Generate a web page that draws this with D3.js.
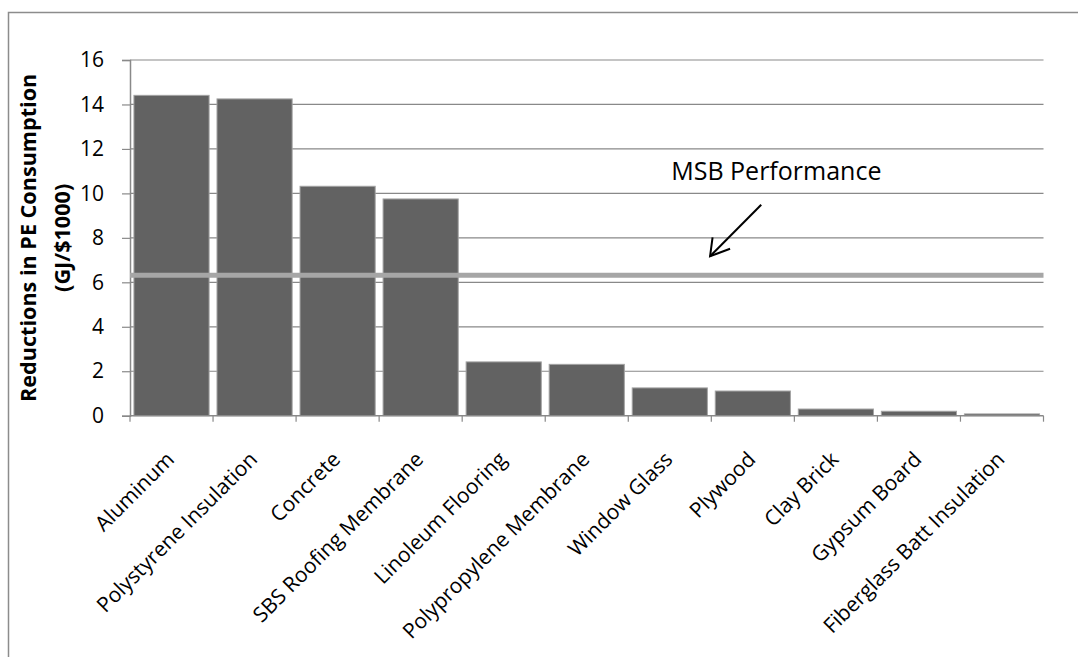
<!DOCTYPE html>
<html>
<head>
<meta charset="utf-8">
<script src="https://cdn.jsdelivr.net/npm/d3@7/dist/d3.min.js"></script>
<style>
  html, body { margin: 0; padding: 0; background: #fff; }
  svg text { font-family: "Open Sans", "DejaVu Sans", sans-serif; fill: #000; }
</style>
</head>
<body>
<svg id="chart" width="1078" height="657"></svg>
<script>
// Reductions in primary energy consumption by material
const categories = [
  "Aluminum", "Polystyrene Insulation", "Concrete", "SBS Roofing Membrane",
  "Linoleum Flooring", "Polypropylene Membrane", "Window Glass", "Plywood",
  "Clay Brick", "Gypsum Board", "Fiberglass Batt Insulation"
];
const values = [14.41, 14.25, 10.32, 9.75, 2.42, 2.31, 1.25, 1.11, 0.30, 0.20, 0.08];
const yTicks = [0, 2, 4, 6, 8, 10, 12, 14, 16];
const msbValue = 6.32;
const msbLabel = "MSB Performance";
const yTitle = ["Reductions in PE Consumption", "(GJ/$1000)"];

const svg = d3.select("#chart");
const margin = { left: 130, right: 1043.5, top: 60, bottom: 415.7 };

const x = d3.scaleBand()
  .domain(categories)
  .range([margin.left, margin.right])
  .paddingInner(0.095)
  .paddingOuter(0.0475);

const y = d3.scaleLinear().domain([0, 16]).range([margin.bottom, margin.top]);

// outer frame (left and top edges)
svg.append("path")
  .attr("d", "M8.5,657 L8.5,12.5 L1078,12.5")
  .attr("fill", "none").attr("stroke", "#8c8c8c").attr("stroke-width", 1.5);

// horizontal gridlines
svg.append("g")
  .selectAll("line").data(yTicks.filter(d => d > 0)).join("line")
  .attr("x1", margin.left).attr("x2", margin.right)
  .attr("y1", d => y(d)).attr("y2", d => y(d))
  .attr("stroke", "#898989").attr("stroke-width", 1.2);

// y axis
const yAxis = svg.append("g")
  .attr("transform", `translate(${margin.left},0)`)
  .call(d3.axisLeft(y).tickValues(yTicks).tickSize(8).tickPadding(18).tickFormat(d3.format("d")));
yAxis.select(".domain").attr("stroke", "#898989").attr("stroke-width", 1.5);
yAxis.selectAll(".tick line").attr("stroke", "#898989").attr("stroke-width", 1.2);
yAxis.selectAll(".tick text").attr("font-size", 21).attr("font-family", "Open Sans").attr("fill", "#000");

// bars
svg.append("g")
  .selectAll("rect").data(categories).join("rect")
  .attr("x", d => x(d))
  .attr("y", (d, i) => y(values[i]))
  .attr("width", x.bandwidth())
  .attr("height", (d, i) => y(0) - y(values[i]))
  .attr("fill", "#626262")
  .attr("stroke", "#a3a3a3")
  .attr("stroke-width", 1);

// x axis baseline and ticks at category boundaries
const boundaries = categories.map(d => x(d) - x.step() * x.paddingInner() / 2)
  .concat([margin.right]);
boundaries[0] = margin.left;
svg.append("line")
  .attr("x1", margin.left).attr("x2", margin.right)
  .attr("y1", y(0)).attr("y2", y(0))
  .attr("stroke", "#898989").attr("stroke-width", 1.5);
svg.append("g")
  .selectAll("line").data(boundaries).join("line")
  .attr("x1", d => d).attr("x2", d => d)
  .attr("y1", y(0)).attr("y2", y(0) + 6)
  .attr("stroke", "#898989").attr("stroke-width", 1.2);

// category labels, rotated
svg.append("g")
  .selectAll("text").data(categories).join("text")
  .attr("text-anchor", "end")
  .attr("font-size", 21)
  .attr("transform", d => `translate(${x(d) + x.bandwidth() / 2 + 4},${y(0) + 45}) rotate(-45)`)
  .text(d => d);

// MSB performance reference line
svg.append("line")
  .attr("x1", margin.left).attr("x2", margin.right)
  .attr("y1", y(msbValue)).attr("y2", y(msbValue))
  .attr("stroke", "#a6a6a6").attr("stroke-width", 5);

// annotation: label and arrow pointing at the reference line
const fx = d3.scaleLinear().domain([0, 1]).range([margin.left, margin.right]);
svg.append("text")
  .attr("x", fx(0.5925)).attr("y", y(10.6))
  .attr("font-size", 25)
  .text(msbLabel);

const tail = [fx(0.691), y(9.49)];
const tip = [fx(0.635), y(7.17)];
svg.append("line")
  .attr("x1", tail[0]).attr("y1", tail[1])
  .attr("x2", tip[0]).attr("y2", tip[1])
  .attr("stroke", "#000").attr("stroke-width", 2);
svg.append("path")
  .attr("d", `M${tip[0] + 2.5},${tip[1] - 19} L${tip[0]},${tip[1]} L${tip[0] + 20},${tip[1] - 7.5}`)
  .attr("fill", "none").attr("stroke", "#000").attr("stroke-width", 2)
  .attr("stroke-linejoin", "miter");

// y axis title, two lines
const yt = svg.append("text")
  .attr("transform", `translate(36,${y(8)}) rotate(-90)`)
  .attr("text-anchor", "middle")
  .attr("font-weight", "bold")
  .attr("font-size", 21.6);
yt.append("tspan").attr("x", 0).attr("dy", 0).text(yTitle[0]);
yt.append("tspan").attr("x", 0).attr("dy", 34).text(yTitle[1]);
</script>
</body>
</html>
